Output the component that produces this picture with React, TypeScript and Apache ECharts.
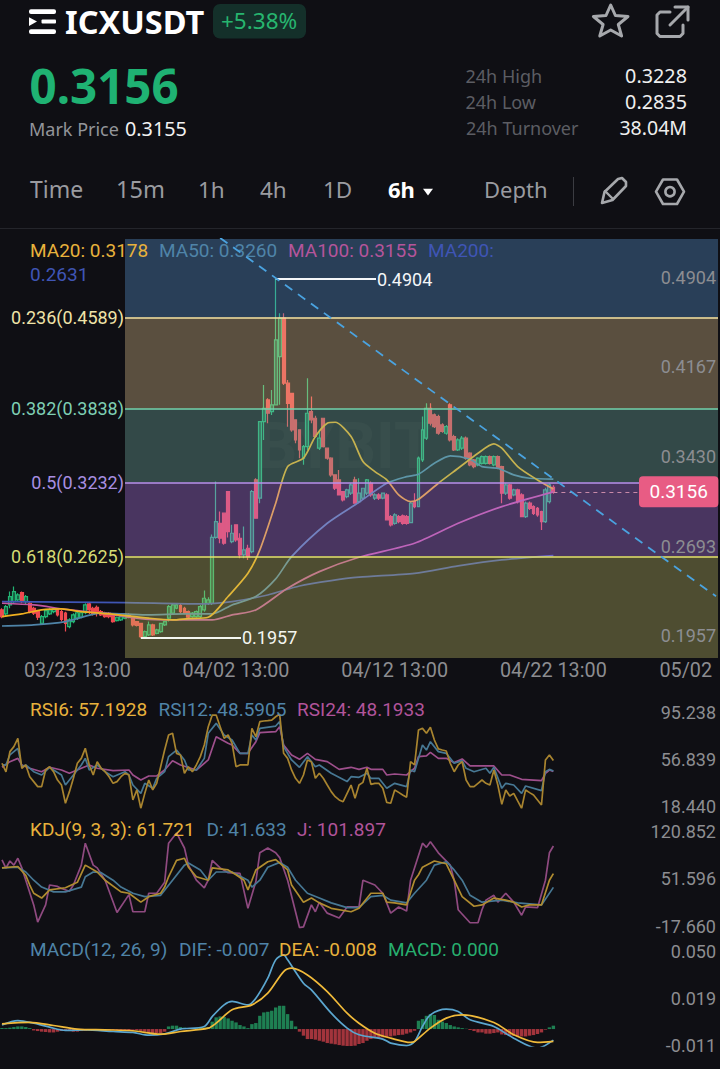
import React, { useEffect, useRef } from "react";
import * as echarts from "echarts";

const BG = "#0f0f14";
const FONT = "Roboto";
const HEAD = "'Noto Sans'";

// one [open, close, low, high] row per 6h candle
const candles: number[][] = [
  [.2185,.2130,.2117,.2199],[.2152,.2212,.2130,.2226],[.2226,.2295,.2199,.2336],[.2254,.2336,.2240,.2377],[.2267,.2308,.2254,.2322],
  [.2328,.2254,.2240,.2336],[.2254,.2295,.2226,.2308],[.2240,.2171,.2158,.2254],[.2199,.2158,.2144,.2212],[.2171,.2125,.2103,.2185],
  [.2075,.2130,.2062,.2144],[.2130,.2180,.2117,.2190],[.2152,.2185,.2144,.2199],[.2171,.2194,.2158,.2205],[.2190,.2144,.2130,.2199],
  [.2171,.2108,.2089,.2185],[.2158,.2075,.2007,.2171],[.2048,.2103,.2034,.2117],[.2089,.2144,.2075,.2158],[.2117,.2162,.2103,.2171],
  [.2125,.2162,.2117,.2176],[.2162,.2226,.2149,.2240],[.2234,.2185,.2152,.2250],[.2199,.2152,.2140,.2212],[.2207,.2162,.2130,.2221],
  [.2171,.2144,.2135,.2185],[.2162,.2130,.2121,.2171],[.2158,.2130,.2117,.2167],[.2144,.2089,.2080,.2153],[.2097,.2125,.2089,.2130],
  [.2103,.2130,.2094,.2135],[.2117,.2144,.2108,.2149],[.2144,.2125,.2117,.2158],[.2130,.2062,.2048,.2135],[.2089,.2057,.2048,.2094],
  [.2075,.1966,.1957,.2080],[.1966,.2007,.1957,.2016],[.1980,.2062,.1971,.2089],[.2062,.1980,.1971,.2071],[.1993,.2021,.1985,.2030],
  [.2007,.2075,.1998,.2080],[.2062,.2089,.2053,.2094],[.2117,.2212,.2089,.2226],[.2158,.2226,.2144,.2240],[.2199,.2226,.2190,.2240],
  [.2221,.2171,.2158,.2234],[.2199,.2158,.2149,.2212],[.2171,.2125,.2112,.2180],[.2130,.2158,.2121,.2167],[.2130,.2171,.2121,.2180],
  [.2130,.2212,.2117,.2226],[.2185,.2281,.2171,.2344],[.2240,.2267,.2226,.2290],[.2240,.2782,.2226,.2805],[.2782,.2911,.2770,.3240],
  [.2897,.2774,.2733,.2993],[.2980,.2733,.2720,.2980],[.3158,.2829,.2780,.3158],[.2747,.2815,.2733,.2884],[.2884,.2760,.2746,.2884],
  [.2774,.2637,.2610,.2815],[.2637,.2678,.2610,.2870],[.2692,.2623,.2596,.2720],[.2664,.3158,.2650,.3171],[.3254,.2939,.2939,.3267],
  [.3103,.3733,.3062,.3733],[.3733,.3842,.3582,.4034],[.3911,.3801,.3719,.3924],[.3815,.3870,.3787,.3993],[.3870,.4404,.3870,.4904],
  [.4267,.4582,.3870,.4623],[.4582,.4048,.4034,.4623],[.4048,.3883,.3691,.4075],[.3965,.3664,.3650,.3965],[.3747,.3582,.3555,.3747],
  [.3665,.3500,.3432,.3665],[.3432,.3527,.3377,.3540],[.3527,.3801,.3500,.4089],[.3815,.3747,.3719,.3938],[.3760,.3610,.3600,.3780],
  [.3514,.3596,.3500,.3665],[.3760,.3527,.3520,.3760],[.3514,.3432,.3420,.3514],[.3432,.3295,.3280,.3440],[.3295,.3185,.3170,.3300],
  [.3253,.3130,.3130,.3335],[.3157,.3089,.3075,.3157],[.3116,.3171,.3103,.3180],[.3144,.3212,.3130,.3226],[.3253,.3062,.3062,.3280],
  [.3075,.3144,.3062,.3267],[.3103,.3185,.3089,.3190],[.3144,.3253,.3130,.3260],[.3226,.3130,.3116,.3240],[.3103,.3130,.3089,.3144],
  [.3130,.3103,.3089,.3144],[.3103,.3144,.3095,.3150],[.3130,.2925,.2925,.3144],[.2952,.2884,.2870,.2965],[.2897,.2966,.2884,.2980],
  [.2952,.2911,.2897,.2966],[.2958,.2897,.2884,.2970],[.2952,.2897,.2884,.2966],[.2903,.3062,.2897,.3075],[.3075,.3034,.3020,.3144],
  [.3034,.3432,.3028,.3445],[.3418,.3665,.3400,.3775],[.3596,.3842,.3582,.3883],[.3842,.3719,.3700,.3883],[.3788,.3692,.3680,.3800],
  [.3774,.3637,.3625,.3788],[.3705,.3651,.3640,.3720],[.3637,.3692,.3625,.3705],[.3870,.3582,.3570,.3884],[.3610,.3500,.3490,.3625],
  [.3500,.3582,.3490,.3596],[.3514,.3596,.3500,.3615],[.3596,.3432,.3420,.3610],[.3473,.3377,.3365,.3480],[.3418,.3363,.3350,.3425],
  [.3377,.3432,.3365,.3440],[.3390,.3445,.3380,.3455],[.3390,.3445,.3380,.3455],[.3445,.3390,.3380,.3455],[.3377,.3445,.3365,.3455],
  [.3445,.3349,.3340,.3455],[.3363,.3144,.3062,.3370],[.3144,.3212,.3130,.3226],[.3212,.3103,.3090,.3220],[.3130,.3171,.3120,.3180],
  [.3171,.3075,.3060,.3180],[.3130,.2952,.2952,.3144],[.2952,.3062,.2940,.3075],[.3062,.3020,.3006,.3075],[.3034,.2979,.2965,.3045],
  [.3020,.2966,.2950,.3030],[.2993,.2911,.2842,.3000],[.2911,.3171,.2900,.3190],[.3075,.3212,.3060,.3226],[.3193,.3156,.3140,.3210],
];

// [candle index, value] readings
const ma20 = [[0,.2130],[5,.2152],[10,.2185],[15,.2193],[20,.2171],[27,.2152],[37,.2117],[43,.2103],[47,.2114],[52,.2125],[57,.2295],[62,.2486],[65,.2678],[69,.3062],[72,.3363],[76,.3432],[79,.3610],[82,.3719],[84,.3727],[88,.3610],[91,.3404],[94,.3322],[97,.3254],[100,.3130],[103,.3075],[105,.3094],[110,.3226],[115,.3349],[120,.3473],[124,.3549],[126,.3514],[130,.3363],[135,.3253],[139,.3178]];
const ma50 = [[0,.2053],[8,.2062],[16,.2089],[25,.2158],[31,.2152],[37,.2144],[46,.2152],[53,.2152],[58,.2226],[64,.2295],[69,.2440],[73,.2623],[82,.2897],[90,.3070],[97,.3226],[102,.3280],[105,.3300],[109,.3390],[113,.3451],[118,.3423],[121,.3363],[125,.3349],[129,.3295],[133,.3267],[139,.3260]];
const ma100 = [[0,.2240],[8,.2226],[16,.2190],[25,.2158],[31,.2130],[37,.2108],[46,.2103],[53,.2103],[58,.2144],[64,.2185],[72,.2363],[80,.2500],[90,.2618],[104,.2733],[115,.2897],[126,.3034],[139,.3155]];
const ma200 = [[0,.2254],[31,.2245],[50,.2234],[58,.2254],[67,.2308],[75,.2382],[83,.2426],[90,.2454],[104,.2486],[115,.2547],[126,.2596],[139,.2631]];

const rsi6 = [55,48,64.5,68.6,75.4,50.9,53.6,44,40,35.9,35.9,49.5,52.2,48.1,41.3,37.2,22.3,31.8,42.7,55,59,67.2,53.6,45.4,56.3,50.9,48.1,44,38.6,40,44,46.8,45.4,25,33.2,18.2,30.4,41.3,33.2,38.6,52.2,65.8,78.1,79.5,63.1,61.8,46.8,52.2,48.1,53.6,60.4,69.9,84.9,94.4,94.4,84.9,75.4,78.1,71.3,52.2,53.6,53.6,53.6,83.5,76.7,89,89.5,89.8,90.3,93,95.2,63.1,59,49.5,42.7,38.6,45.4,57.7,56.3,42.7,46.8,42.7,37.2,31.8,27.7,25,23.6,30.4,37.2,26.4,37.2,39.4,50.9,37.8,38.6,38.6,34.5,23,22.3,33.2,31.2,29.1,27.2,56.3,53.6,82.2,83.5,79.5,84.4,74,66.7,65.8,65,55,48.1,53.6,56.3,41.3,35.9,35.9,38.6,41.3,38.6,37.2,49.5,37.2,21.4,33.2,28.3,30.4,24.2,18.2,33.2,31,29.1,25,20.9,57.7,61.8,57.2];
const rsi12 = [[0,53.6],[1,53.6],[2,61.8],[4,67.2],[5,52.2],[6,53.6],[8,48.1],[10,45.4],[12,51.7],[13,49.5],[15,45.4],[16,37.2],[18,45.4],[20,53.6],[21,59],[22,49.5],[24,53.6],[26,48.1],[28,44],[31,48.1],[32,45.4],[33,37.2],[35,30.4],[36,38.6],[38,34.5],[39,42.7],[41,48.1],[42,60.4],[44,65.8],[46,57.7],[47,49.5],[49,49.5],[51,59],[52,79.5],[54,87.6],[56,78.1],[58,74],[60,63.1],[62,63.1],[63,78.1],[64,74],[65,83.5],[69,85.4],[70,89],[71,68.6],[73,57.7],[75,51.7],[77,60.4],[79,52.2],[80,53.6],[83,46.8],[87,40],[88,44],[90,43.5],[92,46.8],[93,42.7],[95,42.7],[97,34.5],[99,38.6],[102,35.9],[103,49.5],[104,48.1],[106,69.9],[107,65.8],[108,72.6],[110,64.5],[112,63.1],[114,55],[116,57.1],[117,50.9],[119,48.1],[122,50.9],[123,46.8],[124,51.7],[126,34.5],[127,38.6],[129,37.2],[131,30.4],[132,36.4],[136,32.6],[137,48.1],[138,50],[139,48.6]];
const rsi24 = [[0,51.7],[2,56.3],[4,59],[5,53.6],[7,50.9],[10,48.1],[12,51.7],[15,49.5],[17,46.8],[20,50.9],[22,53.6],[24,50.9],[28,49],[32,49.5],[33,45.4],[35,41.3],[37,44.6],[39,44.6],[41,49.5],[43,57.1],[45,53.6],[49,49.5],[52,57.7],[54,76.7],[57,71.3],[58,69.9],[60,63.1],[62,63.1],[64,72.6],[65,80],[69,80.8],[70,84.9],[71,69.9],[73,61.8],[75,58.2],[77,63.1],[79,58.2],[82,56.3],[85,50],[88,51.7],[90,50],[92,51.7],[93,50],[96,50],[97,45.4],[99,46.2],[102,45.4],[104,50.9],[105,60.4],[107,61],[108,63.9],[110,59],[112,59],[114,55.5],[116,58.5],[118,52.8],[121,52.8],[124,52.8],[126,45.4],[128,45.4],[131,41.9],[136,40.8],[137,46.8],[138,49.5],[139,48.2]];

const kdjK = [[0,70],[4,72],[6,59],[7,45],[8,33],[10,26],[12,38],[16,41],[19,49],[21,74],[24,64],[26,52],[30,35],[32,33],[35,20],[37,28],[40,33],[41,42],[42,57],[44,81],[46,84],[47,71],[49,57],[52,52],[53,70],[57,67],[59,60],[61,52],[62,38],[63,52],[64,67],[67,79],[69,82],[72,67],[73,45],[76,20],[78,26],[80,19],[83,11],[88,6],[90,11],[93,33],[96,33],[97,20],[99,19],[102,16],[104,52],[105,60],[106,71],[109,80],[112,76],[114,52],[116,28],[119,14],[121,16],[124,26],[127,23],[129,20],[131,13],[133,16],[136,16],[138,52],[139,61.7]];
const kdjD = [[0,70],[4,71],[6,64],[8,52],[10,42],[13,35],[16,35],[20,42],[21,57],[23,64],[25,63],[28,52],[30,42],[33,33],[36,28],[40,30],[43,52],[46,74],[47,77],[50,67],[52,52],[54,64],[58,64],[62,52],[63,42],[65,52],[67,71],[70,78],[72,71],[74,52],[77,33],[80,26],[83,19],[87,12],[90,12],[93,28],[96,30],[98,23],[102,19],[104,33],[107,52],[109,74],[112,79],[114,67],[116,52],[118,30],[121,20],[126,23],[130,19],[136,16],[139,41.6]];
const kdjJ = [[0,81.5],[1,69.8],[2,80],[3,74],[4,84],[5,70],[6,52],[8,16],[9,-9],[11,16],[12,45],[14,43],[15,40],[17,36],[18,45],[20,74],[21,106],[23,74],[24,70],[26,52],[29,5],[32,31],[33,6],[36,6],[37,33],[39,33],[41,49],[42,106],[44,121],[46,99],[47,74],[49,52],[51,41],[52,52],[53,81],[55,70],[57,63],[60,62],[62,11],[64,50],[65,92],[67,99],[69,92],[70,85],[72,52],[75,-17],[76,-16],[78,16],[79,6],[80,20],[82,4],[85,-3],[87,13],[90,13],[91,52],[94,45],[96,33],[98,4],[100,13],[102,7],[103,52],[106,106],[107,100],[108,108],[110,92],[113,74],[114,52],[115,9],[118,-10],[120,-10],[121,9],[122,23],[124,30],[125,20],[127,33],[129,20],[131,1],[132,13],[135,12],[137,52],[138,92],[139,101.9]];

const macdDif = [[0,.0027],[4,.0055],[8,.0038],[12,.0012],[16,-.0009],[21,-.0005],[28,-.0016],[33,-.0022],[37,-.0040],[41,-.0031],[45,0],[51,.0017],[53,.0081],[56,.0157],[58,.0179],[62,.0157],[64,.0200],[67,.0330],[69,.0449],[71,.0481],[72,.0449],[76,.0297],[78,.0254],[83,.0103],[87,.0006],[90,-.0037],[96,-.0065],[98,-.0091],[102,-.0107],[104,-.0081],[106,.0017],[108,.0092],[112,.0129],[115,.0114],[118,.0060],[124,.0017],[129,-.0059],[135,-.0124],[139,-.0072]];
const macdDea = [[0,.0034],[7,.0043],[13,.0023],[19,0],[26,-.0005],[33,-.0011],[40,-.0033],[45,-.0016],[52,.0006],[54,.0038],[58,.0125],[63,.0157],[67,.0233],[71,.0373],[73,.0395],[77,.0351],[82,.0243],[87,.0103],[90,.0038],[94,-.0027],[98,-.0059],[103,-.0087],[104,-.0081],[108,.0006],[112,.0071],[116,.0092],[124,.0043],[129,-.0037],[135,-.0087],[139,-.0080]];
const macdHist = [.0006,.0006,.0009,.0013,.0017,.0017,.0013,.0006,-.0009,-.0013,-.0017,-.0019,-.0022,-.0022,-.0017,-.0013,-.0011,-.0013,-.0017,-.0017,-.0013,-.0011,-.0006,-.0004,-.0006,-.0009,-.0011,-.0009,-.0006,-.0006,-.0009,-.0006,-.0006,-.0004,-.0006,-.0013,-.0017,-.0026,-.0026,-.0026,-.0026,-.0017,.0017,.0022,.0022,.0013,.0009,.0006,.0006,.0006,.0009,.0009,.0013,.0048,.0076,.0082,.0078,.0069,.0054,.0043,.0026,.0017,.0006,.0032,.0039,.0086,.0108,.0112,.0119,.014,.0151,.0151,.0097,.0054,.0017,-.0017,-.0043,-.0065,-.0065,-.0069,-.0076,-.0082,-.0091,-.0095,-.0099,-.0104,-.0108,-.0112,-.0112,-.0108,-.0097,-.0091,-.0076,-.0065,-.006,-.006,-.0054,-.0052,-.0048,-.0043,-.0039,-.0037,-.003,-.0022,-.0011,.0054,.0065,.0086,.0097,.0091,.006,.0048,.0039,.0026,.0017,.0011,.0006,.0002,-.0006,-.0013,-.0022,-.0022,-.003,-.003,-.0026,-.0022,-.0035,-.0039,-.0043,-.0043,-.0048,-.0048,-.0048,-.0043,-.0039,-.0032,-.0022,-.0004,.0011,.0022];

const fibRatios = ["0.236", "0.382", "0.5", "0.618"];
const fibPrices = [0.4589, 0.3838, 0.3232, 0.2625];
const high = 0.4904;
const low = 0.1957;
const lastPrice = 0.3156;
const trendLine = [[55, .5242], [180, .2297]];

const priceTicks = [0.4904, 0.41673, 0.3430, 0.2693, 0.1957];
const rsiTicks = [95.238, 56.839, 18.44];
const kdjTicks = [120.852, 51.596, -17.66];
const macdTicks = [0.05, 0.019, -0.011];
const xTickLabels = ["03/23 13:00", "04/02 13:00", "04/12 13:00", "04/22 13:00", "05/02 13:00"];

const pad = (n: number) => String(n).padStart(2, "0");
const categories: string[] = Array.from({ length: 181 }, (_, i) => {
  const d = new Date(Date.UTC(2022, 2, 18, 19) + i * 6 * 3600000);
  return `${pad(d.getUTCMonth() + 1)}/${pad(d.getUTCDate())} ${pad(d.getUTCHours())}:00`;
});

const C = { gold: "#e8b23c", blue: "#4f84a8", pink: "#b1549b", navy: "#3f55b5", green: "#27ae6e", axis: "#8c8d91" };

function App() {
  const ref = useRef<HTMLDivElement>(null);
  useEffect(() => {
    document.body.style.margin = "0";
    document.body.style.background = BG;
    const chart = echarts.init(ref.current!, null, { renderer: "svg" });

    const txt = (text: string, x: number, y: number, size: number, fill: string, extra: any = {}) => {
      const { z = 20, align = "left", weight = "normal", family = FONT } = extra;
      return {
        type: "text", x, y, z, silent: true,
        style: { text, fontFamily: family, fontSize: size, fontWeight: weight, fill, textAlign: align, textVerticalAlign: "middle" },
      };
    };
    const stroke = (color: string, w: number) => ({ stroke: color, lineWidth: w, fill: "none", lineJoin: "round", lineCap: "round" });
    const icon = "#a6a8ac";

    const graphic: any[] = [
      { type: "rect", z: 20, shape: { x: 29, y: 9.3, width: 27, height: 4.6, r: 2 }, style: { fill: "#fff" } },
      { type: "rect", z: 20, shape: { x: 41.5, y: 19.6, width: 14.5, height: 4, r: 1 }, style: { fill: "#fff" } },
      { type: "rect", z: 20, shape: { x: 29, y: 29.3, width: 27, height: 4.6, r: 2 }, style: { fill: "#fff" } },
      { type: "polygon", z: 20, shape: { points: [[29, 17.3], [37, 21.6], [29, 26]] }, style: { fill: "#fff" } },
      txt("ICXUSDT", 65, 21, 32.5, "#ffffff", { weight: "bold", family: HEAD }),
      { type: "rect", z: 20, shape: { x: 213, y: 4, width: 93, height: 34.5, r: 7 }, style: { fill: "#14302a" } },
      txt("+5.38%", 221, 20.5, 22.5, "#27b56f", { family: HEAD }),
      txt("0.3156", 29.5, 85, 47.5, "#1fb273", { weight: "bold", family: HEAD }),
      txt("Mark Price", 29, 128.5, 18, "#93959a", { family: HEAD }),
      txt("0.3155", 125, 128.5, 19.8, "#f2f2f2", { family: HEAD }),
      txt("24h High", 465.5, 75.5, 18, "#5c5d63", { family: HEAD }),
      txt("24h Low", 465.5, 101.5, 18, "#5c5d63", { family: HEAD }),
      txt("24h Turnover", 466, 127.5, 18, "#5c5d63", { family: HEAD }),
      txt("0.3228", 687, 75.5, 19.8, "#efefef", { align: "right", family: HEAD }),
      txt("0.2835", 687, 101.5, 19.8, "#efefef", { align: "right", family: HEAD }),
      txt("38.04M", 687, 127.5, 19.5, "#efefef", { align: "right", family: HEAD }),
      // star, share
      { type: "polygon", z: 20, shape: { points: [[610.7, 5], [615.4, 15.5], [628, 16.5], [618.3, 24.5], [621.6, 36], [610.7, 30], [599.8, 36], [603.1, 24.5], [593.4, 16.5], [606, 15.5]] }, style: stroke(icon, 3) },
      { type: "polyline", z: 20, shape: { points: [[670, 12], [660, 12], [657, 15], [657, 33.5], [660, 36.5], [680, 36.5], [683, 33.5], [683, 25]] }, style: stroke(icon, 3) },
      { type: "polyline", z: 20, shape: { points: [[670, 25], [688, 7]] }, style: stroke(icon, 3) },
      { type: "polyline", z: 20, shape: { points: [[675, 7], [688, 7], [688, 20]] }, style: stroke(icon, 3) },
      // tabs
      txt("Time", 30, 189, 23, "#9a9ba0", { family: HEAD }),
      txt("15m", 116, 189, 23.5, "#9a9ba0", { family: HEAD }),
      txt("1h", 198, 189, 22.5, "#9a9ba0", { family: HEAD }),
      txt("4h", 260, 189, 22.5, "#9a9ba0", { family: HEAD }),
      txt("1D", 323, 189, 22.5, "#9a9ba0", { family: HEAD }),
      txt("6h", 388, 189, 22, "#ffffff", { weight: "bold", family: HEAD }),
      { type: "polygon", z: 20, shape: { points: [[423, 188.7], [433, 188.7], [428, 195.5]] }, style: { fill: "#fff" } },
      txt("Depth", 484, 189, 22, "#9a9ba0", { family: HEAD }),
      { type: "line", z: 20, shape: { x1: 573.5, y1: 177, x2: 573.5, y2: 206 }, style: { stroke: "#3b3c42", lineWidth: 1 } },
      { type: "polygon", z: 20, shape: { points: [[602, 203], [604.5, 192], [618, 179], [622, 178], [626, 182], [626, 186], [612.5, 200]] }, style: stroke(icon, 2.6) },
      { type: "line", z: 20, shape: { x1: 605, y1: 191, x2: 613, y2: 199 }, style: stroke(icon, 2.4) },
      { type: "polygon", z: 20, shape: { points: [[656, 191.7], [663, 179.5], [677, 179.5], [684, 191.7], [677, 204], [663, 204]] }, style: stroke(icon, 2.6) },
      { type: "circle", z: 20, shape: { cx: 670, cy: 191.7, r: 4.6 }, style: stroke(icon, 2.6) },
      { type: "line", z: 20, shape: { x1: 0, y1: 228.5, x2: 720, y2: 228.5 }, style: { stroke: "#24252b", lineWidth: 1 } },
      // watermark sits under the fib bands
      txt("BYBIT", 345, 446, 64, "rgba(255,255,255,0.03)", { z: 1, align: "center", weight: "bold" }),
      // main legend
      txt("MA20: 0.3178", 30, 250, 19, "#e8b23c", { z: 5 }),
      txt("MA50: 0.3260", 159, 250, 19, "#4f84a8", { z: 5 }),
      txt("MA100: 0.3155", 288, 250, 19, "#b5559b", { z: 5 }),
      txt("MA200:", 428, 250, 19, "#3f55b5", { z: 5 }),
      txt("0.2631", 30, 274, 19, "#3f55b5", { z: 5 }),
      // sub-chart legends
      txt("RSI6: 57.1928", 30, 709, 19, C.gold),
      txt("RSI12: 48.5905", 158.5, 709, 19, C.blue),
      txt("RSI24: 48.1933", 297, 709, 19, C.pink),
      txt("KDJ(9, 3, 3): 61.721", 30, 829, 19, C.gold),
      txt("D: 41.633", 206.5, 829, 19, C.blue),
      txt("J: 101.897", 297, 829, 19, C.pink),
      txt("MACD(12, 26, 9)", 30, 949, 19, C.blue),
      txt("DIF: -0.007", 179, 949, 19, C.blue),
      txt("DEA: -0.008", 279, 949, 19, C.gold),
      txt("MACD: 0.000", 388, 949, 19, C.green),
    ];

    const grids = [
      { left: 0, width: 718, top: 239, height: 419 },
      { left: 0, width: 718, top: 714, height: 94 },
      { left: 0, width: 718, top: 833, height: 95 },
      { left: 0, width: 718, top: 952, height: 94 },
    ];
    const xAxes = grids.map((_, i) => ({
      type: "category", gridIndex: i, boundaryGap: true,
      data: categories.map((c) => (c === "05/02 13:00" ? { value: c, textStyle: { align: "right" } } : c)),
      axisLine: { show: false }, axisTick: { show: false }, splitLine: { show: false },
      axisLabel: i === 0
        ? {
            show: true, color: C.axis, fontFamily: FONT, fontSize: 19.8, margin: 2,
            interval: (idx: number) => xTickLabels.includes(categories[idx]),
            formatter: (v: string) => (v === "05/02 13:00" ? "05/02" : v),
          }
        : { show: false },
    }));
    const yAxis = (i: number, min: number, max: number, ticks: number[], digits: number, lift: number) => ({
      type: "value", gridIndex: i, position: "right", min, max, z: 10, scale: true,
      axisLine: { show: false }, axisTick: { show: false }, splitLine: { show: false },
      axisLabel: {
        inside: true, margin: 2, color: C.axis, fontFamily: FONT, fontSize: 18, customValues: ticks,
        verticalAlign: "bottom", lineHeight: lift,
        formatter: (v: number) => v.toFixed(digits),
      },
    });
    const yAxes = [
      yAxis(0, 0.179, 0.5233, priceTicks, 4, 4),
      yAxis(1, 18.44, 95.238, rsiTicks, 3, 4),
      yAxis(2, -17.66, 120.852, kdjTicks, 3, 4),
      yAxis(3, -0.011, 0.05, macdTicks, 3, 2),
    ];

    const line = (name: string, data: any, idx: number, color: string, w: number, extra: any = {}) => ({
      type: "line", name, data, xAxisIndex: idx, yAxisIndex: idx, showSymbol: false, symbol: "none", z: 3, silent: true,
      lineStyle: { color, width: w, opacity: extra.opacity ?? 1, type: extra.dash ?? "solid" },
      smooth: extra.smooth ?? false,
      ...(extra.z ? { z: extra.z } : {}),
    });

    const bandEdges = [0.5233, ...fibPrices, 0.179];
    const bandColors = ["rgba(92,155,214,0.35)", "rgba(232,200,143,0.35)", "rgba(121,184,168,0.35)", "rgba(183,126,237,0.35)", "rgba(198,195,103,0.35)"];
    const fibLineColors = ["#f2e2a4", "#74d3ad", "#b792ea", "#e4e26e"];
    const fibLabelColors = ["#efe3a8", "#7fd0b4", "#a88fe2", "#d6dc74"];

    const series: any[] = [
      {
        type: "candlestick", name: "ICXUSDT", data: candles, xAxisIndex: 0, yAxisIndex: 0, barWidth: 3.4, z: 2, silent: true,
        itemStyle: { color: "rgba(34,181,115,0.45)", color0: "#f0494f", borderColor: "#22b573", borderColor0: "#f0494f", borderWidth: 1.2 },
      },
      line("MA200", ma200, 0, "#3f55b5", 1.7, { smooth: 0.25 }),
      line("MA100", ma100, 0, "#c2569f", 1.7, { smooth: 0.25 }),
      line("MA50", ma50, 0, "#4f84a8", 1.7, { smooth: 0.25 }),
      line("MA20", ma20, 0, "#f0b020", 1.7, { smooth: 0.25 }),
      {
        type: "line", name: "Fib bands", data: [], xAxisIndex: 0, yAxisIndex: 0, silent: true, z: 4,
        markArea: {
          silent: true, z: 4,
          data: bandColors.map((color, i) => [
            { x: 125, yAxis: bandEdges[i], itemStyle: { color } },
            { x: 718, yAxis: bandEdges[i + 1] },
          ]),
        },
        markLine: {
          silent: true, z: 6, symbol: "none",
          data: fibPrices.map((p, i) => [
            {
              x: 125, yAxis: p,
              lineStyle: { color: fibLineColors[i], width: 1.6, type: "solid" },
              label: {
                show: true, position: "start", distance: 1, color: fibLabelColors[i], fontFamily: FONT, fontSize: 18,
                formatter: `${fibRatios[i]}(${p.toFixed(4)})`,
              },
            },
            { x: 718, yAxis: p },
          ]),
        },
      },
      {
        type: "line", name: "Levels", data: [], xAxisIndex: 0, yAxisIndex: 0, silent: true, z: 7,
        markLine: {
          silent: true, z: 7, symbol: "none",
          data: [
            [
              { coord: [69, high], lineStyle: { color: "#f4f6f8", width: 1.8, type: "solid" },
                label: { show: true, position: "end", distance: 1, color: "#f4f6f8", fontFamily: FONT, fontSize: 18, formatter: high.toFixed(4) } },
              { x: 376, yAxis: high },
            ],
            [
              { coord: [35, low], lineStyle: { color: "#f4f6f0", width: 1.8, type: "solid" },
                label: { show: true, position: "end", distance: 1, color: "#f4f6f0", fontFamily: FONT, fontSize: 18, formatter: low.toFixed(4) } },
              { x: 241, yAxis: low },
            ],
            [
              { coord: [139, lastPrice], lineStyle: { color: "#c98aa8", width: 1, type: [4, 4] },
                label: {
                  show: true, position: "end", distance: 0, color: "#ffffff", fontFamily: FONT, fontSize: 19,
                  backgroundColor: "#e85c84", borderRadius: 4, padding: [6, 10.5], formatter: lastPrice.toFixed(4),
                } },
              { x: 639, yAxis: lastPrice },
            ],
          ],
        },
      },
      line("Trend", trendLine, 0, "#4aa3e0", 1.8, { dash: [9, 7], z: 7 }),

      line("RSI24", rsi24, 1, "#9e4f8c", 1.7),
      line("RSI12", rsi12, 1, "#477894", 1.7),
      line("RSI6", rsi6.map((v, i) => [i, v]), 1, "#a8842f", 1.7),

      line("J", kdjJ, 2, "#8f4a80", 1.7),
      line("D", kdjD, 2, "#477894", 1.7),
      line("K", kdjK, 2, "#b08c30", 1.7),

      {
        type: "bar", name: "MACD", data: macdHist, xAxisIndex: 3, yAxisIndex: 3, barWidth: 3.4, silent: true,
        itemStyle: { color: (p: any) => (p.value >= 0 ? "#1e7f52" : "#a2343c") },
      },
      line("DIF", macdDif, 3, "#5ba6cf", 1.7, { smooth: 0.3 }),
      line("DEA", macdDea, 3, "#f0ba3a", 1.7, { smooth: 0.3 }),
    ];

    chart.setOption({
      animation: false,
      backgroundColor: BG,
      tooltip: { show: false },
      legend: { show: false },
      graphic: { elements: graphic },
      grid: grids,
      xAxis: xAxes,
      yAxis: yAxes,
      series,
    });
    return () => chart.dispose();
  }, []);
  return <div ref={ref} style={{ width: 720, height: 1069 }} />;
}

export default App;
